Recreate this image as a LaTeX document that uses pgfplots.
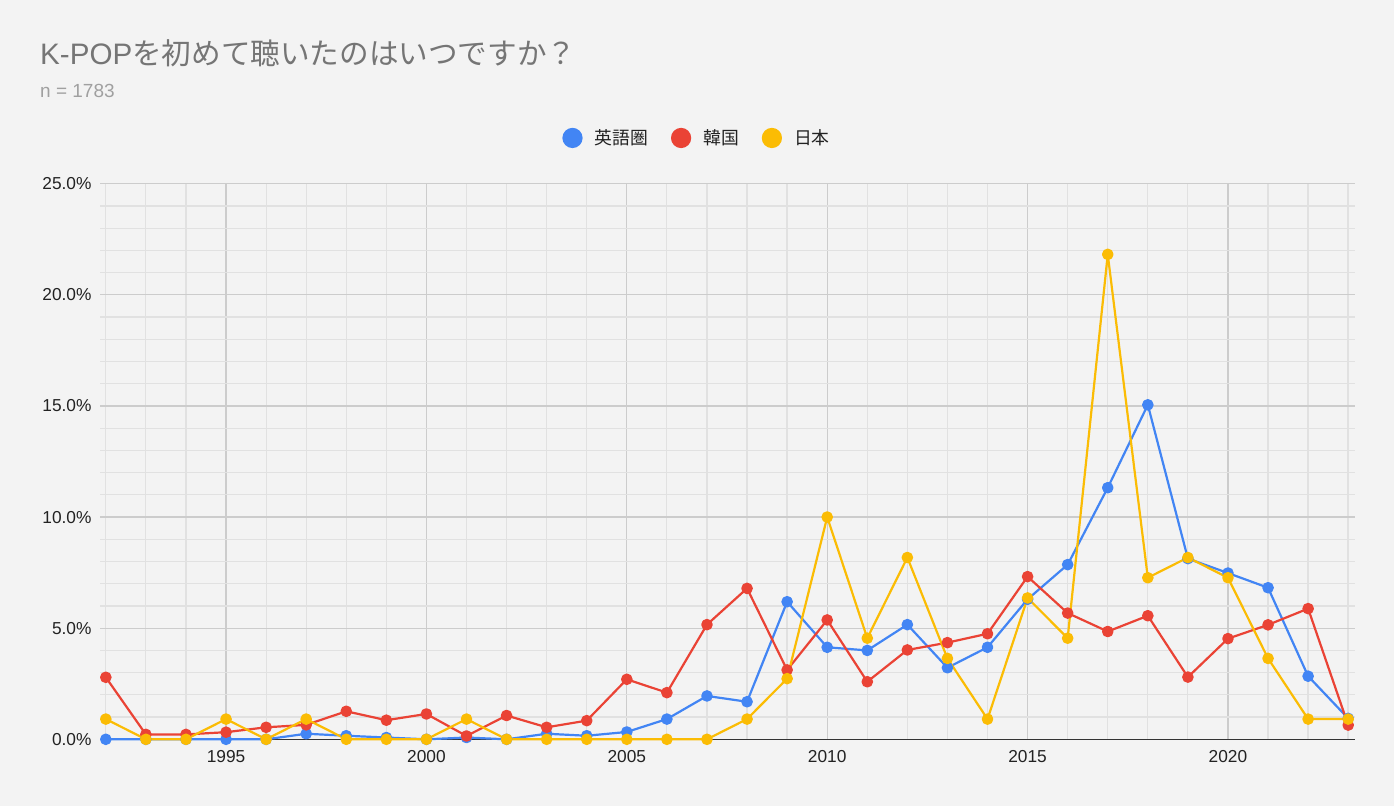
\documentclass[border=0pt]{standalone}
\usepackage{fontspec}
\setmainfont{Liberation Sans}
\newfontfamily\jp{Noto Sans CJK JP}
\usepackage{pgfplots}
\pgfplotsset{compat=1.18}
\definecolor{bg}{HTML}{F3F3F3}
\definecolor{cblue}{HTML}{4285F4}
\definecolor{cred}{HTML}{EA4335}
\definecolor{cyellow}{HTML}{FBBC04}
\definecolor{titlegray}{HTML}{757575}
\definecolor{subgray}{HTML}{A0A0A0}
\definecolor{labelc}{HTML}{222222}
\definecolor{gridmajor}{HTML}{CCCCCC}
\definecolor{gridminor}{HTML}{E1E1E1}
\definecolor{axisc}{HTML}{333333}
\begin{document}
\begin{tikzpicture}[x=1pt,y=1pt]
\fill[bg] (0,0) rectangle (1394,806);
\node[anchor=base west, inner sep=0, text=titlegray, font=\fontsize{29.6}{34}\selectfont] at (40,741) {K-POP{\jp を初めて聴いたのはいつですか？}};
\node[anchor=base west, inner sep=0, text=subgray, font=\fontsize{19}{22}\selectfont] at (40,708) {n = 1783};
\begin{axis}[
  at={(100pt,66.7pt)}, anchor=south west, scale only axis,
  width=1255pt, height=555.6pt,
  xmin=1991.855, xmax=2023.17, ymin=0, ymax=25,
  xtick={1995,2000,...,2020}, minor xtick={1992,...,2023},
  ytick={0,5,...,25}, minor ytick={0,1,...,25},
  grid=both,
  major grid style={color=gridmajor, line width=1.2pt},
  minor grid style={color=gridminor, line width=1.2pt},
  axis line style={draw=none},
  major tick length=0pt, minor tick length=0pt,
  tick label style={font=\fontsize{17.3}{20}\selectfont, text=labelc},
  xticklabel style={yshift=-8pt, /pgf/number format/1000 sep={}},
  yticklabel style={xshift=-5pt},
  /pgf/number format/assume math mode=true,
  yticklabel={\pgfmathprintnumber[fixed,fixed zerofill,precision=1]{\tick}\%},
  extra y ticks={0}, extra y tick labels={},
  extra y tick style={grid=major, major grid style={color=axisc, line width=1.6pt}},
  clip=false,
  legend columns=3,
  legend style={at={(0.4757,1.0823)}, anchor=center, draw=none, fill=none,
    font=\jp\fontsize{17.8}{20}\selectfont, text=labelc,
    /tikz/every even column/.append style={column sep=21pt},
    /tikz/every odd column/.append style={column sep=10pt}},
  legend image code/.code={\fill[#1] (0pt,0pt) circle (9pt);},
  every axis plot/.append style={line width=2.2pt, line join=round, mark=*, mark size=4.7pt, mark options={solid}},
]
\addplot[color=cblue] table {
x y
1992 0
1993 0
1994 0
1995 0
1996 0
1997 0.25
1998 0.16
1999 0.08
2000 0
2001 0.08
2002 0
2003 0.25
2004 0.16
2005 0.33
2006 0.91
2007 1.95
2008 1.69
2009 6.19
2010 4.14
2011 4.00
2012 5.16
2013 3.22
2014 4.14
2015 6.30
2016 7.86
2017 11.32
2018 15.05
2019 8.13
2020 7.48
2021 6.82
2022 2.84
2023 0.94
};
\addlegendentry{英語圏}
\addplot[color=cred] table {
x y
1992 2.79
1993 0.22
1994 0.22
1995 0.32
1996 0.54
1997 0.65
1998 1.26
1999 0.86
2000 1.14
2001 0.15
2002 1.07
2003 0.54
2004 0.84
2005 2.70
2006 2.10
2007 5.16
2008 6.79
2009 3.12
2010 5.37
2011 2.59
2012 4.02
2013 4.35
2014 4.75
2015 7.32
2016 5.68
2017 4.85
2018 5.56
2019 2.80
2020 4.53
2021 5.15
2022 5.88
2023 0.64
};
\addlegendentry{韓国}
\addplot[color=cyellow] table {
x y
1992 0.91
1993 0
1994 0
1995 0.91
1996 0
1997 0.91
1998 0
1999 0
2000 0
2001 0.91
2002 0
2003 0
2004 0
2005 0
2006 0
2007 0
2008 0.91
2009 2.73
2010 10.0
2011 4.55
2012 8.18
2013 3.64
2014 0.91
2015 6.36
2016 4.55
2017 21.82
2018 7.27
2019 8.18
2020 7.27
2021 3.64
2022 0.91
2023 0.91
};
\addlegendentry{日本}
\end{axis}
\pgfresetboundingbox
\useasboundingbox (0,0) rectangle (1394,806);
\end{tikzpicture}
\end{document}
